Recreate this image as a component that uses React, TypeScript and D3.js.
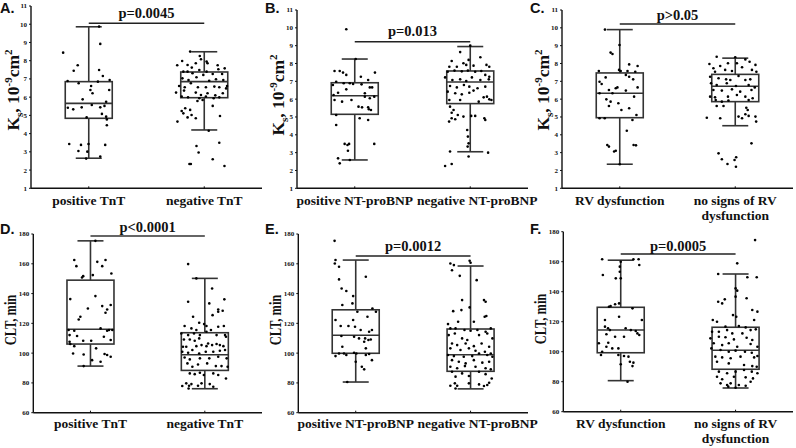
import React from "react";
import * as d3 from "d3";

// ---------- DATA ----------
const catsTnT = ["positive TnT", "negative TnT"];
const catsBNP = ["positive NT-proBNP", "negative NT-proBNP"];
const catsRV = ["RV dysfunction", "no signs of RV|dysfunction"];

const ksTicks = [1, 2, 3, 4, 5, 6, 7, 8, 9, 10, 11];
const cltTicks = [60, 80, 100, 120, 140, 160, 180];

const pLabels = ["p=0.0045", "p=0.013", "p>0.05", "p<0.0001", "p=0.0012", "p=0.0005"];

// box stats: [whiskerLow, q1, median, q3, whiskerHigh]
const boxA = [[2.65, 4.84, 5.66, 6.85, 9.86], [4.2, 5.97, 6.85, 7.38, 8.49]];
const boxB = [[2.59, 5.15, 6.19, 6.92, 8.25], [3.05, 5.75, 6.96, 7.58, 8.95]];
const boxC = [[2.35, 4.96, 6.33, 7.47, 9.9], [4.51, 5.86, 6.72, 7.39, 8.3]];
const boxD = [[91.3, 106.1, 116, 149, 175.4], [76.1, 88.4, 98.9, 113.7, 150.2]];
const boxE = [[80.6, 99.9, 112, 129.1, 162.5], [76, 87.8, 98.9, 116.2, 158.5]];
const boxF = [[80.7, 99.3, 114.5, 129.6, 161], [75.8, 88.3, 101, 116.3, 151.8]];

// points: [jitter (fraction of box half-width), value]
const ptsA1 = [[0.44,9.87],[0.49,8.92],[-1.09,8.44],[-0.47,7.75],[-0.64,7.45],[0.44,7.49],[0.6,7.16],[0.89,6.94],[-0.9,6.89],[-0.43,6.76],[0.1,6.61],[0.39,6.85],[0.07,6.39],[0.16,6.21],[0.87,6.39],[-0.26,5.88],[0.74,5.75],[0.13,5.57],[-0.89,5.42],[-0.66,5.33],[-0.3,5.44],[0.49,5.44],[0.67,5.52],[0.56,5.08],[0.74,4.93],[0.77,4.78],[-0.09,4.89],[0.77,4.46],[-0.83,3.43],[-0.33,3.38],[-0.01,3.43],[0.7,3.38],[-0.44,3.05],[-0.06,3.01],[0.49,2.74],[-0.11,2.63]];
const ptsA2 = [[-0.6,8.5],[-0.19,8.26],[-0.14,8.08],[0.1,7.95],[0.14,7.86],[-0.94,7.98],[-0.71,7.76],[-0.53,7.62],[-0.36,7.86],[0.57,7.75],[0.6,7.53],[0.87,7.58],[-1.15,7.75],[-0.89,7.4],[-0.71,7.4],[-0.5,7.31],[-0.21,7.49],[0.1,7.4],[0.36,7.27],[0.76,7.27],[-0.93,7.03],[-0.67,6.94],[-0.33,7.09],[-0.04,7.22],[0.21,6.9],[0.5,6.98],[0.81,6.94],[-1.07,6.61],[-0.83,6.54],[-0.57,6.76],[-0.27,6.54],[0.07,6.54],[0.43,6.58],[0.64,6.54],[0.97,6.61],[-1.2,6.25],[-0.86,6.36],[-0.36,6.25],[-0.14,6.12],[0.14,6.21],[0.47,6.1],[0.79,6.21],[0.93,6.48],[-0.96,6.03],[-0.69,5.99],[-0.21,5.94],[0.07,6.03],[0.4,5.94],[0.64,5.99],[-0.07,5.84],[-0.29,5.79],[0.36,5.52],[-0.81,5.39],[-0.96,5.24],[-0.6,5.3],[-0.89,5.11],[-0.54,5.02],[-0.71,4.89],[-0.36,4.84],[-1.14,4.66],[0.67,4.97],[0.19,4.16],[-0.33,3.32],[-0.24,2.96],[0.64,3.5],[-0.57,2.33],[-0.63,2.33],[0.36,2.59],[0.86,2.22]];
const ptsB1 = [[-0.36,9.92],[0.04,8.25],[-0.86,7.58],[-0.64,7.58],[-0.5,7.49],[-0.36,7.36],[0.26,7.26],[0.86,7.49],[-0.79,6.98],[-0.47,6.89],[-0.93,6.79],[-0.21,6.89],[-0.07,6.85],[0.29,6.83],[0.57,7.07],[-0.9,6.23],[-0.71,6.36],[-0.36,6.55],[0.43,6.33],[0.64,6.66],[0.74,6.66],[-0.86,5.95],[-0.54,5.86],[-0.14,5.95],[0.43,6.14],[0.64,6.05],[0.83,6.14],[0.16,5.58],[0.31,5.54],[0.57,5.54],[0.6,5.43],[0.69,5.39],[0.21,4.93],[0.57,4.83],[-0.79,4.55],[-0.79,5.11],[-0.43,3.49],[-0.31,3.43],[-0.24,3.49],[0.83,3.49],[-0.29,3.11],[-0.71,2.68],[-0.64,2.4],[-0.21,2.59]];
const ptsB2 = [[0,9.0],[-0.43,8.64],[-0.07,8.2],[0.43,8.35],[-0.79,8.14],[-0.89,7.82],[-0.57,7.82],[-0.29,8.01],[-0.17,7.92],[0.14,7.88],[0.69,7.92],[0.81,7.82],[-0.96,7.54],[-0.67,7.6],[-0.36,7.56],[-0.1,7.6],[0.21,7.54],[0.47,7.58],[0.64,7.36],[0.81,7.26],[-1.07,7.22],[-0.76,7.07],[-0.43,7.11],[-0.17,7.02],[0.07,7.22],[0.43,7.07],[0.79,7.11],[-0.86,6.74],[-0.57,6.66],[-0.27,6.79],[-0.04,6.7],[0.31,6.61],[0.64,6.7],[-0.96,6.42],[-0.64,6.33],[-0.36,6.27],[-0.04,6.36],[0.14,6.48],[0.57,6.1],[0.71,6.14],[0.81,5.99],[-0.89,5.95],[-0.43,5.95],[0.36,5.86],[0.9,5.95],[-0.86,5.58],[-0.71,5.39],[-0.79,5.24],[-0.53,5.11],[-0.29,5.02],[-0.79,4.93],[-0.64,4.87],[-0.9,4.74],[0.04,5.06],[0.21,5.06],[0.6,4.93],[0.64,4.83],[-0.13,4.27],[-0.1,3.9],[-0.07,3.52],[-0.11,3.34],[-0.07,2.78],[-0.86,3.06],[0.76,3.0],[-1.07,2.25],[-0.79,2.36]];
const ptsC1 = [[-0.63,9.9],[-0.01,9.04],[-0.39,8.61],[-0.31,8.53],[0.4,7.95],[0.76,7.86],[-0.89,7.58],[-0.03,7.64],[0.04,7.58],[0.33,7.58],[0.66,7.54],[-0.6,7.22],[0.4,7.26],[0.57,7.11],[-0.86,6.98],[-0.77,6.85],[0.26,7.36],[0.76,6.66],[-0.17,6.61],[-0.1,6.66],[-0.46,6.51],[0.26,6.48],[-0.31,6.33],[-0.86,6.33],[-0.57,5.99],[-0.39,5.86],[-0.46,5.62],[-0.06,5.77],[0.07,5.39],[0.4,5.49],[0.61,6.14],[0.71,5.11],[-0.86,4.93],[-0.64,4.93],[0.54,4.83],[0.3,4.23],[-0.53,3.43],[-0.46,3.34],[0.59,3.43],[0.69,3.41],[-0.24,3.06],[-0.17,3.11],[0,2.35]];
const ptsC2 = [[0,8.35],[-0.79,8.38],[0.43,8.23],[0.61,8.1],[-1.1,7.97],[-0.64,7.86],[-0.31,8.01],[0.07,8.01],[0.86,7.92],[-0.93,7.73],[-0.86,7.54],[-0.43,7.64],[-0.14,7.58],[0.29,7.79],[0.71,7.64],[0.9,7.54],[-1.07,7.26],[-0.71,7.17],[-0.39,7.11],[-0.21,7.07],[0.14,7.3],[0.43,7.07],[0.64,7.11],[-1.03,6.89],[-0.79,6.79],[-0.36,6.89],[0.03,6.74],[0.57,6.79],[0.83,6.66],[-0.93,6.51],[-0.57,6.48],[-0.14,6.55],[0.21,6.42],[0.69,6.51],[-1.07,6.14],[-0.86,6.1],[-0.31,6.14],[0.07,6.23],[0.43,6.14],[0.74,6.05],[-0.83,5.95],[-0.57,5.86],[-0.29,5.92],[0.57,5.95],[-0.79,5.62],[-0.5,5.62],[0.47,5.52],[0.53,5.39],[0.43,5.15],[0.57,5.06],[-1.21,4.96],[-0.64,4.93],[0.14,5.02],[0.29,4.93],[0.86,5.02],[0.89,4.74],[0.69,3.52],[-0.71,2.96],[-0.57,2.63],[0.04,2.74],[-0.03,2.59],[-0.33,2.36],[0.03,2.21]];
const ptsD1 = [[0.21,175.4],[-0.69,162.5],[-0.6,158.4],[0.29,161.3],[0.64,162.5],[0.5,158.4],[-0.31,151.7],[-0.36,150.8],[0.1,152.4],[0.89,153.5],[-0.86,136.3],[0.21,138.3],[-0.11,130],[0.5,131.6],[0.86,132.3],[0.71,129.3],[0.64,127.1],[-0.43,124.4],[-0.5,122.6],[0.43,116.6],[0.79,115.5],[-0.69,115],[-0.93,115.5],[0.93,115.5],[0.71,115],[-0.89,112.1],[-0.57,111.5],[0.57,111],[-0.31,108.3],[0.03,108.3],[-0.89,107.6],[-0.86,106.1],[-0.69,104.7],[0.86,108.8],[0.24,103.2],[-0.29,99.1],[0.6,99.4],[0.71,98.7],[0.86,97.6],[-0.74,99.8],[0.07,95.3],[0.43,94.2],[-0.29,91.3]];
const ptsD2 = [[-0.71,159.8],[-0.36,150.2],[0.31,143.4],[-0.71,134.5],[0.19,133.4],[0.57,129.3],[0.57,127.8],[0.83,136.1],[0.33,125.5],[0.76,128.5],[-0.86,118.2],[-0.5,124.4],[-0.24,120.4],[-0.03,119.5],[0.07,118.2],[0.57,117.7],[-0.57,116.6],[-0.36,115.5],[0.26,115.5],[0.81,118.2],[-1.0,113.2],[-0.71,112.1],[-0.46,113.2],[-0.21,112.1],[0.07,114.4],[0.5,112.1],[0.86,112.1],[-0.89,109.2],[-0.64,109.2],[-0.43,108.3],[-0.24,109.9],[0.14,106.5],[0.5,106.1],[0.64,105.4],[0.9,111],[-0.93,104.3],[-0.79,104.3],[-0.36,104.7],[-0.14,105.4],[0.07,104.7],[0.31,105.4],[0.79,104.7],[-0.96,100.9],[-0.71,100.3],[-0.53,102.1],[-0.24,99.8],[0.04,100.9],[0.36,100.9],[0.64,101.6],[0.86,102.1],[-0.86,97.1],[-0.64,95.8],[-0.21,96.5],[0.19,96.5],[0.57,97.6],[0.93,96.5],[-0.74,93.1],[-0.53,90.9],[-0.29,92.4],[0.1,93.1],[0.47,91.3],[0.71,91.3],[0.97,90.9],[-0.64,86.4],[-0.43,85.9],[-0.21,86.8],[-0.04,85.3],[0.36,86.4],[0.57,85.3],[0.9,83],[-0.79,79.7],[-0.67,78.1],[-0.57,79.2],[-0.29,78.1],[-0.14,79.7],[0.21,79.2],[0.36,77.4],[-0.96,77.9],[-0.69,76.3]];
const ptsE1 = [[-0.9,175.4],[-0.86,162.5],[-0.71,158],[-0.89,160.2],[-0.71,149.5],[-0.6,143.4],[-0.4,141.7],[-0.11,138.3],[-0.14,133.4],[-0.57,132.3],[0.43,151.3],[0.07,127.8],[0.71,130],[0.86,127.8],[-0.86,122.2],[-0.11,122.2],[0.5,124.4],[-0.64,118.2],[-0.31,118.2],[-0.03,117.7],[0.21,115.5],[0.69,115.5],[0.57,114.4],[-0.61,111.5],[-0.07,111],[0.14,109.9],[0.4,109.9],[0.54,108.8],[0.64,109.2],[0.36,107.6],[0.43,103.2],[-0.57,104.3],[-0.71,99.8],[-0.86,98],[-0.4,98.7],[-0.5,99.8],[-0.07,100.3],[0.03,99.8],[0.43,98.7],[0.57,99.4],[0.69,95.3],[0,94.2],[0.26,90.9],[0.36,89.1],[-0.36,80.6]];
const ptsE2 = [[-0.86,160.2],[-0.71,159.1],[-0.04,162],[0,160.7],[-0.79,155.7],[-0.46,151.9],[0.26,149],[-0.36,135.6],[0.57,135.6],[0.64,134.5],[-0.04,130.7],[-0.39,128.9],[-0.74,128.2],[0.6,124.4],[0.67,124.9],[-0.96,119.5],[-0.53,121.1],[0.14,121.1],[-0.86,116.6],[-0.64,116.6],[-0.26,115.5],[0,115],[0.29,115.5],[0.64,114.4],[0.86,116.6],[-0.93,112.1],[-0.67,113.2],[-0.36,109.9],[-0.14,108.8],[0.36,112.1],[0.71,113.2],[0.93,109.9],[-0.79,106.5],[-0.57,105.4],[-0.21,106.5],[0.14,104.7],[0.47,106.5],[0.79,104.3],[-0.86,103.2],[-0.43,102.1],[-0.07,103.2],[0.21,101.6],[0.61,100.9],[0.86,99.8],[-0.96,98.7],[-0.71,98],[-0.29,97.6],[0.07,98],[0.36,99.8],[0.71,98.7],[0.93,97.6],[-0.79,95.3],[-0.5,94.2],[-0.21,93.1],[0.14,95.3],[0.5,93.6],[0.79,94.2],[-0.86,90.9],[-0.57,89.8],[-0.24,91.3],[0.21,90.9],[0.64,89.8],[0.86,89.1],[-0.79,87.5],[-0.36,86.4],[0.36,87.5],[-0.64,84.2],[-0.07,84.6],[0.64,85.9],[0.9,83],[-0.67,79.7],[-0.57,78.1],[-0.07,79.7],[0.36,79],[0.57,77.9],[0.79,80.1],[0.71,78.6],[-0.86,78.1],[-0.64,76.3]];
const ptsF1 = [[-0.79,161.6],[0.76,161.6],[0.54,161.6],[0,160],[0.79,157.8],[-0.04,156.7],[-0.04,153.3],[-0.76,151.1],[-0.21,148.9],[0,148.9],[-0.07,132.2],[-0.24,131.6],[-0.5,130],[-0.43,130.4],[0.5,128.9],[-0.07,123.3],[-0.67,121.1],[0.9,121.1],[-0.67,116.7],[-0.54,115.6],[-0.46,114.4],[0.21,115.6],[0.43,114.4],[0.64,113.8],[0.71,112.2],[0.79,111.1],[-0.61,111.6],[-0.24,110],[0.14,110],[-0.93,105.6],[-0.53,106],[-0.1,102.2],[-0.61,103.3],[-0.36,102.2],[-0.79,100],[-0.84,97.8],[-0.1,97.8],[0.14,97.1],[0.33,96.7],[0.39,93.3],[0.54,92.7],[0.5,90.4],[0,91.6],[0.29,80]];
const ptsF2 = [[0.83,174.4],[0.07,158.9],[0.5,149.6],[0.9,149.6],[-0.74,151.8],[0,142.2],[0.07,140.7],[0.47,135.6],[-0.74,133.3],[-0.57,132.2],[-0.46,134.9],[0,136.7],[0.71,127.8],[0.93,126.7],[-0.11,124.4],[0.03,123.3],[-0.97,121.1],[-0.79,120],[-0.43,116.7],[0.14,117.1],[0.43,116.2],[0.79,121.1],[-1.0,113.3],[-0.71,113.3],[-0.36,114.4],[-0.14,112.2],[0.29,112.2],[0.64,114.4],[0.86,114.9],[-1.07,108.9],[-0.71,110],[-0.43,109.6],[-0.07,108.2],[0.47,109.3],[0.71,107.8],[-0.93,105.6],[-0.57,104.4],[-0.29,105.6],[0.07,103.3],[0.64,105.1],[0.93,103.3],[-1.03,102.2],[-0.64,101.1],[-0.29,100],[0,100.7],[0.4,100],[0.69,99.3],[-0.86,96.7],[-0.57,96.2],[-0.21,95.6],[0.21,96.7],[0.79,96.2],[0.93,97.1],[-0.79,93.3],[-0.29,92.2],[0.36,91.1],[0.71,90.4],[0.9,90],[-0.71,86.7],[-0.36,85.6],[0,86.7],[0.36,87.8],[0.69,86.7],[0.93,85.6],[-0.79,83.3],[-0.57,81.6],[-0.07,83.3],[0.43,82.9],[0.74,82.2],[-0.64,78.9],[-0.36,77.8],[-0.21,78.9],[0.14,77.8],[0.43,77.3],[0.64,80],[0,76],[-0.31,76.7]];

// ---------- LAYOUT ----------
type Panel = {
  letter: string; lx: number; ly: number;
  x0: number; x1: number; yTop: number; yBot: number;
  domain: [number, number]; ticks: number[];
  cats: string[]; boxes: number[][]; pts: number[][][];
  p: string; pLineY: number; pTextY: number; pColor: string; pWidth: number;
  yLabel: "ks" | "clt"; ylx: number; yly: number;
  catY: number; catDx: number[];
};

const panels: Panel[] = [
  { letter: "A.", lx: 0, ly: 13, x0: 31, x1: 262, yTop: 6, yBot: 188.3, domain: [1, 11], ticks: ksTicks, cats: catsTnT, boxes: boxA, pts: [ptsA1, ptsA2], p: pLabels[0], pLineY: 23.3, pTextY: 18, pColor: "#222", pWidth: 1.4, yLabel: "ks", ylx: 18.5, yly: 90, catY: 204.5, catDx: [0, 0] },
  { letter: "B.", lx: 265, ly: 13, x0: 297, x1: 528, yTop: 10, yBot: 188.3, domain: [1, 11], ticks: ksTicks, cats: catsBNP, boxes: boxB, pts: [ptsB1, ptsB2], p: pLabels[1], pLineY: 41.7, pTextY: 35.5, pColor: "#222", pWidth: 1.4, yLabel: "ks", ylx: 283.5, yly: 95, catY: 204.5, catDx: [0, 7] },
  { letter: "C.", lx: 530, ly: 13, x0: 562, x1: 793, yTop: 10, yBot: 188.3, domain: [1, 11], ticks: ksTicks, cats: catsRV, boxes: boxC, pts: [ptsC1, ptsC2], p: pLabels[2], pLineY: 24, pTextY: 19.5, pColor: "#222", pWidth: 1.4, yLabel: "ks", ylx: 548.5, yly: 90, catY: 204.5, catDx: [0, 0] },
  { letter: "D.", lx: 0, ly: 234, x0: 33.3, x1: 262, yTop: 234, yBot: 412.7, domain: [60, 180], ticks: cltTicks, cats: catsTnT, boxes: boxD, pts: [ptsD1, ptsD2], p: pLabels[3], pLineY: 236, pTextY: 232, pColor: "#666", pWidth: 2, yLabel: "clt", ylx: 16, yly: 320, catY: 428, catDx: [0, 0] },
  { letter: "E.", lx: 265, ly: 234, x0: 298.3, x1: 528, yTop: 234, yBot: 412.7, domain: [60, 180], ticks: cltTicks, cats: catsBNP, boxes: boxE, pts: [ptsE1, ptsE2], p: pLabels[4], pLineY: 256, pTextY: 250.5, pColor: "#222", pWidth: 1.4, yLabel: "clt", ylx: 281, yly: 320, catY: 428, catDx: [0, 7] },
  { letter: "F.", lx: 530, ly: 234, x0: 563.3, x1: 793, yTop: 231.7, yBot: 411.7, domain: [60, 180], ticks: cltTicks, cats: catsRV, boxes: boxF, pts: [ptsF1, ptsF2], p: pLabels[5], pLineY: 254, pTextY: 250.5, pColor: "#222", pWidth: 1.4, yLabel: "clt", ylx: 546, yly: 319, catY: 428, catDx: [0, 0] },
];

const SERIF = "'Liberation Serif', 'Times New Roman', serif";
const SANS = "'Liberation Sans', Arial, sans-serif";
const BOX_HALF = 23.5;
const CAP_HALF = 13;
const BOX_COLOR = "#333";

function PanelView({ pn }: { pn: Panel }) {
  const x = d3.scalePoint<string>().domain(pn.cats).range([pn.x0, pn.x1]).padding(0.5);
  const y = d3.scaleLinear().domain(pn.domain).range([pn.yBot, pn.yTop]);
  const c1 = x(pn.cats[0])!;
  const c2 = x(pn.cats[1])!;
  return (
    <g>
      <text x={pn.lx} y={pn.ly} fontFamily={SANS} fontWeight="bold" fontSize={14.5} fill="#111">{pn.letter}</text>
      {/* axes */}
      <line x1={pn.x0} x2={pn.x0} y1={pn.yTop} y2={pn.yBot} stroke="#111" strokeWidth={1.4} />
      <line x1={pn.x0} x2={pn.x1} y1={pn.yBot} y2={pn.yBot} stroke="#111" strokeWidth={1.4} />
      {pn.ticks.map((t) => (
        <g key={t}>
          <line x1={pn.x0 - 2} x2={pn.x0} y1={y(t)} y2={y(t)} stroke="#111" strokeWidth={1} />
          <text x={pn.x0 - 4} y={y(t)} dy="0.35em" textAnchor="end" fontFamily={SERIF} fontWeight="bold" fontSize={7} fill="#111">{t}</text>
        </g>
      ))}
      {pn.cats.map((c, ci) => {
        const lines = c.split("|");
        return (
          <g key={c}>
            <line x1={x(c)!} x2={x(c)!} y1={pn.yBot} y2={pn.yBot - 2} stroke="#111" strokeWidth={1} />
            {lines.map((ln, i) => (
              <text key={i} x={x(c)! + pn.catDx[ci]} y={pn.catY + i * 15} textAnchor="middle" fontFamily={SERIF} fontWeight="bold" fontSize={13.5} fill="#111">{ln}</text>
            ))}
          </g>
        );
      })}
      {/* y label */}
      {pn.yLabel === "ks" ? (
        <text transform={`translate(${pn.ylx},${pn.yly}) rotate(-90)`} textAnchor="middle" fontFamily={SERIF} fontWeight="bold" fontSize={17.5} fill="#111">
          K<tspan fontSize={11} dy={4}>s</tspan><tspan dy={-4}>, 10</tspan><tspan fontSize={11} dy={-7}>-9</tspan><tspan dy={7}>cm</tspan><tspan fontSize={11} dy={-7}>2</tspan>
        </text>
      ) : (
        <text transform={`translate(${pn.ylx},${pn.yly}) rotate(-90) scale(0.78,1)`} textAnchor="middle" fontFamily={SERIF} fontWeight="bold" fontSize={16} fill="#111">CLT, min</text>
      )}
      {/* boxes */}
      {pn.boxes.map((b, i) => {
        const cx = x(pn.cats[i])!;
        return (
          <g key={i} stroke={BOX_COLOR} strokeWidth={1.6} fill="none">
            <line x1={cx} x2={cx} y1={y(b[0])} y2={y(b[1])} />
            <line x1={cx} x2={cx} y1={y(b[3])} y2={y(b[4])} />
            <line x1={cx - CAP_HALF} x2={cx + CAP_HALF} y1={y(b[0])} y2={y(b[0])} />
            <line x1={cx - CAP_HALF} x2={cx + CAP_HALF} y1={y(b[4])} y2={y(b[4])} />
            <rect x={cx - BOX_HALF} y={y(b[3])} width={BOX_HALF * 2} height={y(b[1]) - y(b[3])} />
            <line x1={cx - BOX_HALF} x2={cx + BOX_HALF} y1={y(b[2])} y2={y(b[2])} />
          </g>
        );
      })}
      {/* points */}
      {pn.pts.map((arr, i) => {
        const cx = x(pn.cats[i])!;
        return (
          <g key={i} fill="#000">
            {arr.map((p, j) => (
              <circle key={j} cx={cx + p[0] * BOX_HALF} cy={y(p[1])} r={1.3} />
            ))}
          </g>
        );
      })}
      {/* p-value */}
      <line x1={c1} x2={c2} y1={pn.pLineY} y2={pn.pLineY} stroke={pn.pColor} strokeWidth={pn.pWidth} />
      <text x={(c1 + c2) / 2} y={pn.pTextY} textAnchor="middle" fontFamily={SERIF} fontWeight="bold" fontSize={14.5} fill="#111">{pn.p}</text>
    </g>
  );
}

export default function App() {
  return (
    <svg width={796} height={448} style={{ position: "absolute", left: 0, top: 0, background: "#fff" }}>
      <rect width={796} height={448} fill="#fff" />
      {panels.map((pn) => (
        <PanelView key={pn.letter} pn={pn} />
      ))}
    </svg>
  );
}
